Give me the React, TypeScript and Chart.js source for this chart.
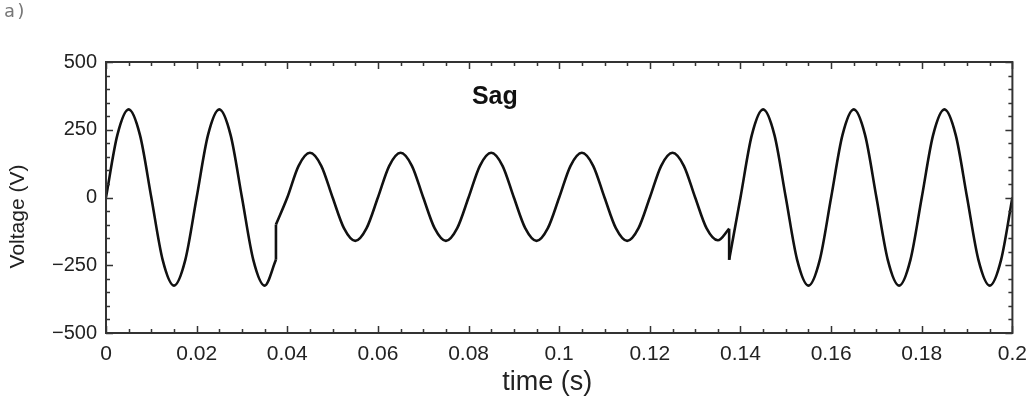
import React, { useEffect, useRef } from 'react';
import { Chart, registerables } from 'chart.js';

Chart.register(...registerables);

// ---- data ----
// normal supply before the sag
const preSagTimes = [
  0, 0.0025, 0.005, 0.0075, 0.01, 0.0125, 0.015, 0.0175,
  0.02, 0.0225, 0.025, 0.0275, 0.03, 0.0325, 0.035, 0.0375,
];
const preSagVoltages = [
  0, 230, 325, 230, 0, -230, -325, -230,
  0, 230, 325, 230, 0, -230, -325, -230,
];

// during the sag
const sagTimes = [
  0.0375, 0.04, 0.0425, 0.045, 0.0475, 0.05, 0.0525, 0.055, 0.0575,
  0.06, 0.0625, 0.065, 0.0675, 0.07, 0.0725, 0.075, 0.0775,
  0.08, 0.0825, 0.085, 0.0875, 0.09, 0.0925, 0.095, 0.0975,
  0.1, 0.1025, 0.105, 0.1075, 0.11, 0.1125, 0.115, 0.1175,
  0.12, 0.1225, 0.125, 0.1275, 0.13, 0.1325, 0.135, 0.1375,
];
const sagVoltages = [
  -100, 0, 117, 165, 117, 0, -113, -160, -113,
  0, 117, 165, 117, 0, -113, -160, -113,
  0, 117, 165, 117, 0, -113, -160, -113,
  0, 117, 165, 117, 0, -113, -160, -113,
  0, 117, 165, 117, 0, -113, -158, -115,
];

// normal supply after the sag
const postSagTimes = [
  0.1375, 0.14, 0.1425, 0.145, 0.1475, 0.15, 0.1525, 0.155, 0.1575,
  0.16, 0.1625, 0.165, 0.1675, 0.17, 0.1725, 0.175, 0.1775,
  0.18, 0.1825, 0.185, 0.1875, 0.19, 0.1925, 0.195, 0.1975,
  0.2,
];
const postSagVoltages = [
  -230, 0, 230, 325, 230, 0, -230, -325, -230,
  0, 230, 325, 230, 0, -230, -325, -230,
  0, 230, 325, 230, 0, -230, -325, -230,
  0,
];

const xTickValues = [0, 0.02, 0.04, 0.06, 0.08, 0.1, 0.12, 0.14, 0.16, 0.18, 0.2];
const xTickLabels = ['0', '0.02', '0.04', '0.06', '0.08', '0.1', '0.12', '0.14', '0.16', '0.18', '0.2'];
const yTickValues = [-500, -250, 0, 250, 500];
const yTickLabels = ['\u2212500', '\u2212250', '0', '250', '500'];
const xMinorStep = 0.005;
const yMinorStep = 50;

const xTitle = 'time (s)';
const yTitle = 'Voltage (V)';
const annotationText = 'Sag';
const annotationX = 0.0858;
const annotationY = 371;
const panelLabel = 'a)';

const FONT = '"Liberation Sans", Arial, Helvetica, sans-serif';
const INK = '#222';
const LINE = '#111';

const toPoints = (ts: number[], vs: number[]) => ts.map((t, i) => ({ x: t, y: vs[i] }));

const framePlugin = {
  id: 'frameTicks',
  afterDraw(chart: any) {
    const { ctx, chartArea, scales } = chart;
    const { left, right, top, bottom } = chartArea;
    const x = scales.x;
    const y = scales.y;
    ctx.save();
    ctx.strokeStyle = '#333';
    ctx.lineWidth = 1.5;
    ctx.beginPath();
    for (let i = 0; ; i++) {
      const v = x.min + i * xMinorStep;
      if (v > x.max + 1e-9) break;
      const px = Math.round(x.getPixelForValue(v)) + 0.5;
      const major = xTickValues.some((t) => Math.abs(t - v) < 1e-9);
      const len = major ? 7 : 4;
      ctx.moveTo(px, bottom);
      ctx.lineTo(px, bottom - len);
      ctx.moveTo(px, top);
      ctx.lineTo(px, top + len);
    }
    for (let i = 0; ; i++) {
      const v = y.min + i * yMinorStep;
      if (v > y.max + 1e-9) break;
      const py = Math.round(y.getPixelForValue(v)) + 0.5;
      const major = yTickValues.some((t) => Math.abs(t - v) < 1e-9);
      const len = major ? 7 : 4;
      ctx.moveTo(left, py);
      ctx.lineTo(left + len, py);
      ctx.moveTo(right, py);
      ctx.lineTo(right - len, py);
    }
    ctx.stroke();
    ctx.lineWidth = 2;
    ctx.strokeStyle = '#333';
    ctx.strokeRect(left, top, right - left, bottom - top);

    ctx.fillStyle = INK;
    ctx.textAlign = 'center';
    ctx.textBaseline = 'middle';

    // y-axis title
    ctx.font = `21px ${FONT}`;
    ctx.save();
    ctx.translate(left - 88, (top + bottom) / 2 + 19);
    ctx.rotate(-Math.PI / 2);
    ctx.fillText(yTitle, 0, 0);
    ctx.restore();

    // x-axis title
    ctx.font = `27px ${FONT}`;
    ctx.fillText(xTitle, (left + right) / 2 - 12, bottom + 50);

    // annotation
    ctx.font = `bold 25px ${FONT}`;
    ctx.fillStyle = '#111';
    ctx.fillText(annotationText, x.getPixelForValue(annotationX), y.getPixelForValue(annotationY));
    ctx.restore();
  },
};

export default function App() {
  const canvasRef = useRef<HTMLCanvasElement | null>(null);

  useEffect(() => {
    if (!canvasRef.current) return;
    const pre = toPoints(preSagTimes, preSagVoltages);
    const sag = toPoints(sagTimes, sagVoltages);
    const post = toPoints(postSagTimes, postSagVoltages);
    const curve = { borderColor: LINE, borderWidth: 2.6, pointRadius: 0, fill: false };
    const chart = new Chart(canvasRef.current, {
      type: 'line',
      data: {
        datasets: [
          { ...curve, data: pre, cubicInterpolationMode: 'monotone' },
          { ...curve, data: sag, cubicInterpolationMode: 'monotone' },
          { ...curve, data: post, cubicInterpolationMode: 'monotone' },
          { ...curve, data: [pre[pre.length - 1], sag[0]], tension: 0 },
          { ...curve, data: [sag[sag.length - 1], post[0]], tension: 0 },
        ],
      },
      options: {
        animation: false,
        responsive: true,
        maintainAspectRatio: false,
        layout: { padding: { top: 62, right: 16, left: 0, bottom: 0 } },
        plugins: { legend: { display: false }, tooltip: { enabled: false } },
        scales: {
          x: {
            type: 'linear',
            min: 0,
            max: 0.2,
            afterBuildTicks: (s: any) => {
              s.ticks = xTickValues.map((value) => ({ value }));
            },
            afterFit: (s: any) => {
              s.height = 70;
            },
            ticks: {
              autoSkip: false,
              maxRotation: 0,
              padding: 9,
              color: INK,
              font: { family: FONT, size: 21 },
              callback: (_v: any, i: number) => xTickLabels[i],
            },
            grid: { display: false, drawTicks: false },
            border: { display: false },
          },
          y: {
            type: 'linear',
            min: -500,
            max: 500,
            afterBuildTicks: (s: any) => {
              s.ticks = yTickValues.map((value) => ({ value }));
            },
            afterFit: (s: any) => {
              s.width = 106;
            },
            ticks: {
              autoSkip: false,
              padding: 9,
              color: INK,
              font: { family: FONT, size: 20 },
              callback: (_v: any, i: number) => yTickLabels[i],
            },
            grid: { display: false, drawTicks: false },
            border: { display: false },
          },
        },
      },
      plugins: [framePlugin],
    });
    return () => chart.destroy();
  }, []);

  return (
    <div style={{ position: 'fixed', left: 0, top: 0, width: 1036, height: 403, background: '#fff' }}>
      <div
        style={{
          position: 'absolute',
          left: 4,
          top: 0,
          fontFamily: '"DejaVu Sans Mono", monospace',
          fontSize: 18,
          color: '#777',
          letterSpacing: 1,
        }}
      >
        {panelLabel}
      </div>
      <canvas ref={canvasRef} />
    </div>
  );
}
